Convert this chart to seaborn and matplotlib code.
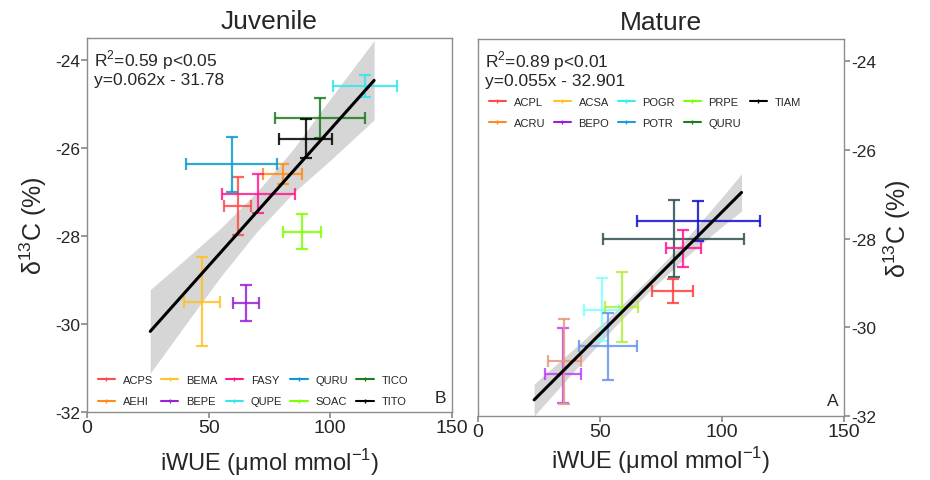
import matplotlib
matplotlib.use("Agg")
import matplotlib.pyplot as plt
from matplotlib.lines import Line2D
import pandas as pd
import seaborn as sns

# ---- Juvenile panel (B) ----
juv_species = ["ACPS", "AEHI", "BEMA", "BEPE", "FASY", "QUPE", "QURU", "SOAC", "TICO", "TITO"]
juv_x = [61.9, 80.4, 47.1, 65.2, 70.4, 114.3, 59.5, 88.2, 95.8, 89.9]
juv_xerr = [5.5, 8.0, 7.4, 5.3, 14.9, 13.0, 18.6, 7.8, 18.4, 10.8]
juv_y = [-27.31, -26.59, -29.49, -29.52, -27.04, -24.59, -26.37, -27.90, -25.32, -25.79]
juv_yerr = [0.66, 0.23, 1.02, 0.41, 0.44, 0.25, 0.63, 0.39, 0.46, 0.44]
juv_colors = ["#FF4A4A", "#FF8C1A", "#FFC125", "#9A1FD8", "#FF1A8C",
              "#33E6F0", "#0A9BD0", "#80FF00", "#1E7B1E", "#000000"]
juv_slope, juv_icpt = 0.062, -31.78
juv_band_x = [26, 40, 55, 70, 85, 100, 118]
juv_band_lo = [-31.12, -30.05, -28.92, -27.89, -27.01, -26.28, -25.36]
juv_band_hi = [-29.22, -28.55, -27.82, -26.99, -26.01, -24.88, -23.56]

# ---- Mature panel (A) ----
mat_x = [90.3, 80.3, 84.1, 79.8, 50.7, 58.9, 53.4, 35.0, 35.4]
mat_xerr = [25.1, 28.9, 7.2, 8.5, 7.2, 6.8, 11.9, 7.4, 6.8]
mat_y = [-27.60, -28.00, -28.22, -29.18, -29.61, -29.55, -30.43, -31.05, -30.77]
mat_yerr_lo = [0.45, 0.86, 0.41, 0.27, 0.71, 0.79, 0.75, 0.65, 0.95]
mat_yerr_hi = [0.45, 0.86, 0.41, 0.27, 0.71, 0.79, 0.75, 1.04, 0.95]
mat_colors = ["#1010CC", "#2F4F4F", "#FF1493", "#FF4040", "#80FFFF",
              "#B3EE3A", "#6495ED", "#BF3EFF", "#E9967A"]
mat_legend = ["ACPL", "ACRU", "ACSA", "BEPO", "POGR", "POTR", "PRPE", "QURU", "TIAM"]
mat_legend_colors = ["#FF4A4A", "#FF8C1A", "#FFC125", "#9A1FD8", "#33F0F0",
                     "#1E9BD8", "#80FF00", "#1E7B1E", "#000000"]
mat_slope, mat_icpt = 0.055, -32.901
mat_band_x = [23, 40, 55, 70, 85, 100, 108]
mat_band_lo = [-32.00, -30.95, -30.05, -29.20, -28.43, -27.73, -27.38]
mat_band_hi = [-31.28, -30.45, -29.71, -28.90, -28.03, -27.07, -26.54]

x_ticks = [0, 50, 100, 150]
y_ticks = [-32, -30, -28, -26, -24]

sns.set_theme(style="white")
plt.rcParams["font.family"] = ["Liberation Sans", "DejaVu Sans"]
plt.rcParams["mathtext.fontset"] = "custom"
plt.rcParams["mathtext.rm"] = "Liberation Sans"
plt.rcParams["axes.unicode_minus"] = False

SPINE = "#8c8c8c"

fig = plt.figure(figsize=(9.3, 4.81), dpi=100)
ax1 = fig.add_axes([0.0935, 0.1414, 0.3925, 0.7775])
ax2 = fig.add_axes([0.514, 0.133, 0.3935, 0.784])


def draw_panel(ax, xs, xerr, ys, yerr, colors, slope, icpt, bx, blo, bhi, xpad):
    ax.fill_between(bx, blo, bhi, color="#d6d6d6", linewidth=0, zorder=1)
    for x, xe, y, ye_lo, ye_hi, c in zip(xs, xerr, ys, yerr[0], yerr[1], colors):
        ax.errorbar(x, y, xerr=xe, yerr=[[ye_lo], [ye_hi]], fmt="none", ecolor=c,
                    elinewidth=1.6, capsize=4.5, capthick=1.6, alpha=0.85, zorder=2)
    fit = pd.DataFrame({"x": [bx[0], bx[-1]]})
    fit["y"] = slope * fit["x"] + icpt
    sns.lineplot(data=fit, x="x", y="y", color="black", linewidth=2.2, ax=ax, zorder=3)
    ax.set_xlim(0, 150)
    ax.set_ylim(-32, -23.5)
    ax.set_xticks(x_ticks)
    ax.set_yticks(y_ticks)
    ax.tick_params(axis="x", labelsize=14, direction="out", length=4, color=SPINE, pad=1)
    ax.tick_params(axis="y", labelsize=12.5, direction="out", length=4, color=SPINE, pad=1)
    for s in ax.spines.values():
        s.set_color(SPINE)
        s.set_linewidth(1.0)
    ax.set_xlabel(r"iWUE (μmol mmol$^{\mathregular{-1}}$)", fontsize=17, labelpad=xpad)
    ax.set_ylabel(r"δ$^{\mathregular{13}}$C (%)", fontsize=18)


draw_panel(ax1, juv_x, juv_xerr, juv_y, (juv_yerr, juv_yerr), juv_colors,
           juv_slope, juv_icpt, juv_band_x, juv_band_lo, juv_band_hi, 7)
draw_panel(ax2, mat_x, mat_xerr, mat_y, (mat_yerr_lo, mat_yerr_hi), mat_colors,
           mat_slope, mat_icpt, mat_band_x, mat_band_lo, mat_band_hi, 3)

ax1.set_title("Juvenile", fontsize=19, pad=7)
ax2.set_title("Mature", fontsize=19, pad=7)
ax1.tick_params(axis="y", left=True)
ax1.tick_params(axis="x", bottom=True)
ax2.tick_params(axis="x", bottom=True)
ax2.yaxis.tick_right()
ax2.tick_params(axis="y", right=True)
ax2.yaxis.set_label_position("right")

ax1.text(0.02, 0.975, "R$^\\mathregular{2}$=0.59 p<0.05\ny=0.062x - 31.78",
         transform=ax1.transAxes, ha="left", va="top", fontsize=12.5, linespacing=1.1)
ax2.text(0.02, 0.975, "R$^\\mathregular{2}$=0.89 p<0.01\ny=0.055x - 32.901",
         transform=ax2.transAxes, ha="left", va="top", fontsize=12.5, linespacing=1.1)
ax1.text(0.985, 0.02, "B", transform=ax1.transAxes, ha="right", va="bottom", fontsize=12.5)
ax2.text(0.985, 0.02, "A", transform=ax2.transAxes, ha="right", va="bottom", fontsize=12.5)


def handles(colors):
    return [Line2D([0], [0], color=c, linewidth=1.5, marker="|", markersize=3) for c in colors]


legend_kw = dict(ncol=5, frameon=False, fontsize=8, handlelength=1.55,
                 handletextpad=0.7, columnspacing=0.75, labelspacing=1.0,
                 borderpad=0.2, borderaxespad=0.3)
ax1.legend(handles(juv_colors), juv_species, loc="lower left",
           bbox_to_anchor=(0.014, 0.0), **legend_kw)
ax2.legend(handles(mat_legend_colors), mat_legend, loc="upper left",
           bbox_to_anchor=(0.014, 0.86), **legend_kw)

fig.savefig("out.png", dpi=100, facecolor="white")
